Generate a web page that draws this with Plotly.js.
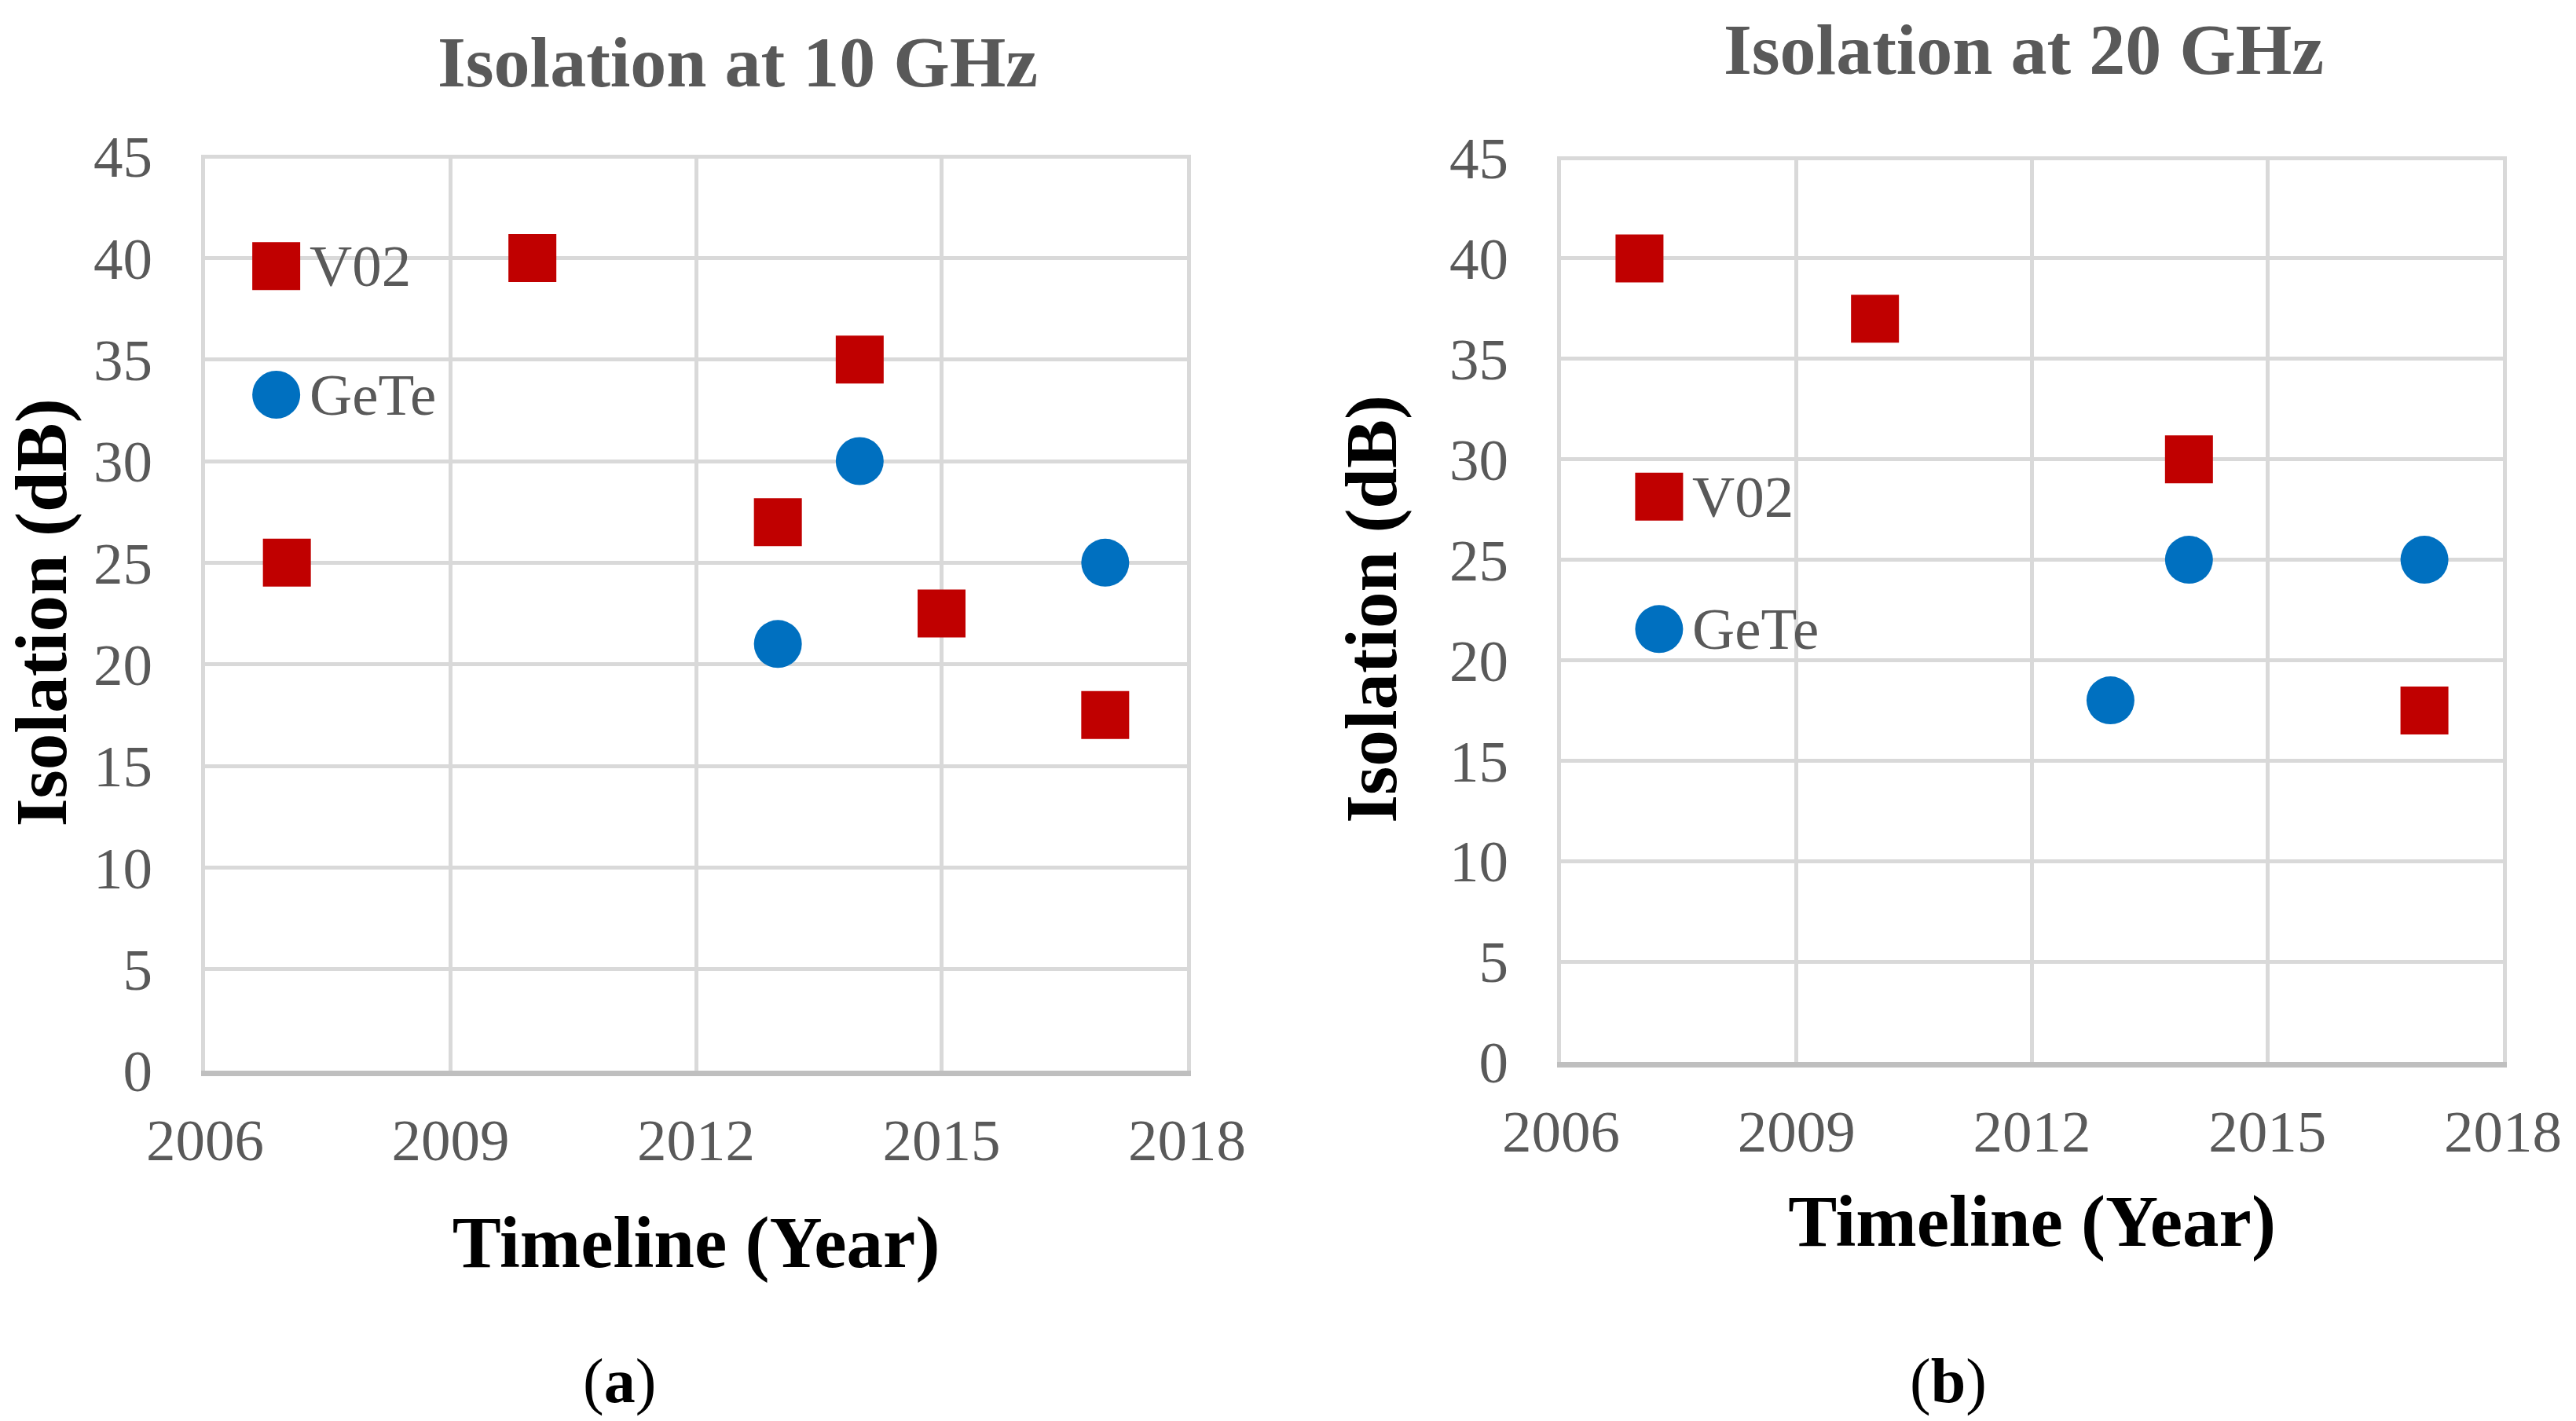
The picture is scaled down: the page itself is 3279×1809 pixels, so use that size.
<!DOCTYPE html>
<html><head><meta charset="utf-8">
<script src="https://cdn.plot.ly/plotly-3.0.1.min.js"></script>
<style>html,body{margin:0;padding:0;background:#fff}</style>
</head><body><div id="chart" style="width:3279px;height:1809px"></div>
<script>
// ---- data ----
const seriesNames = ['V02', 'GeTe'];
const chartTitles = ['Isolation at 10 GHz', 'Isolation at 20 GHz'];
const panelLabels = ['(<b>a</b>)', '(<b>b</b>)'];
const xTitle = 'Timeline (Year)';
const yTitle = 'Isolation (dB)';
const xTicks = [2006, 2009, 2012, 2015, 2018];
const yTicks = [0, 5, 10, 15, 20, 25, 30, 35, 40, 45];

const years10V02 = [2007, 2010, 2013, 2014, 2015, 2017];
const iso10V02   = [25, 40, 27, 35, 22.5, 17.5];
const years10GeTe = [2013, 2014, 2017];
const iso10GeTe   = [21, 30, 25];

const years20V02 = [2007, 2010, 2014, 2017];
const iso20V02   = [40, 37, 30, 17.5];
const years20GeTe = [2013, 2014, 2017];
const iso20GeTe   = [18, 25, 25];

// ---- styles ----
const FONT = 'Liberation Serif, Times New Roman, serif';
const RED = '#C00000', BLUE = '#0070C0', GRAY = '#595959';
const GRID = '#D9D9D9';
const MS = 61;

function sq(x, y, xa, ya, name) {
  return {type: 'scatter', mode: 'markers', x: x, y: y, xaxis: xa, yaxis: ya, name: name,
    marker: {symbol: 'square', size: MS, color: RED}, showlegend: false, hoverinfo: 'x+y'};
}
function ci(x, y, xa, ya, name) {
  return {type: 'scatter', mode: 'markers', x: x, y: y, xaxis: xa, yaxis: ya, name: name,
    marker: {symbol: 'circle', size: MS, color: BLUE}, showlegend: false, hoverinfo: 'x+y'};
}

const data = [
  sq(years10V02, iso10V02, 'x', 'y', seriesNames[0]),
  ci(years10GeTe, iso10GeTe, 'x', 'y', seriesNames[1]),
  sq(years20V02, iso20V02, 'x2', 'y2', seriesNames[0]),
  ci(years20GeTe, iso20GeTe, 'x2', 'y2', seriesNames[1])
];

function xAx(domain, anchor, standoff) {
  return {domain: domain, anchor: anchor, range: [2006, 2018], tickvals: xTicks, ticktext: xTicks.map(String),
    showgrid: true, gridcolor: GRID, gridwidth: 5, zeroline: false,
    showline: true, linecolor: '#BFBFBF', linewidth: 7, ticks: '',
    tickfont: {family: FONT, size: 75, color: GRAY}, ticklabelstandoff: 17,
    title: {text: '<b>' + xTitle + '</b>', font: {family: FONT, size: 93, color: '#000'}, standoff: standoff}};
}
function yAx(domain, anchor, standoff) {
  return {domain: domain, anchor: anchor, range: [0, 45.08], tickvals: yTicks,
    showgrid: true, gridcolor: GRID, gridwidth: 5, zeroline: false,
    showline: true, mirror: true, linecolor: GRID, linewidth: 5, ticks: '',
    tickfont: {family: FONT, size: 75, color: GRAY}, ticklabelstandoff: 47,
    title: {text: '<b>' + yTitle + '</b>', font: {family: FONT, size: 93, color: '#000'}, standoff: standoff}};
}

// legend keys (layout elements)
const legendPos = [
  {xa: 'x', ya: 'y', x: 2006.87, y: [39.6, 33.27]},
  {xa: 'x2', ya: 'y2', x: 2007.25, y: [28.14, 21.55]}
];
const shapes = [], annotations = [];
legendPos.forEach(lp => {
  [0, 1].forEach(i => {
    shapes.push({type: i === 0 ? 'rect' : 'circle', xref: lp.xa, yref: lp.ya,
      xsizemode: 'pixel', xanchor: lp.x, x0: -MS / 2, x1: MS / 2,
      ysizemode: 'pixel', yanchor: lp.y[i], y0: -MS / 2, y1: MS / 2,
      fillcolor: i === 0 ? RED : BLUE, line: {width: 0}});
    annotations.push({xref: lp.xa, yref: lp.ya, x: lp.x, y: lp.y[i], xanchor: 'left', yanchor: 'middle',
      xshift: 40, text: seriesNames[i], showarrow: false, font: {family: FONT, size: 75, color: GRAY}});
  });
});
annotations.push({xref: 'paper', yref: 'paper', x: 939 / 3279, y: 1 - 79 / 1809, xanchor: 'center', yanchor: 'middle',
  text: '<b>' + chartTitles[0] + '</b>', showarrow: false, font: {family: FONT, size: 92, color: GRAY}});
annotations.push({xref: 'paper', yref: 'paper', x: 2576 / 3279, y: 1 - 63 / 1809, xanchor: 'center', yanchor: 'middle',
  text: '<b>' + chartTitles[1] + '</b>', showarrow: false, font: {family: FONT, size: 92, color: GRAY}});
annotations.push({xref: 'paper', yref: 'paper', x: 788 / 3279, y: 1 - 1758 / 1809, xanchor: 'center', yanchor: 'middle',
  text: panelLabels[0], showarrow: false, font: {family: FONT, size: 80, color: '#000'}});
annotations.push({xref: 'paper', yref: 'paper', x: 2480 / 3279, y: 1 - 1758 / 1809, xanchor: 'center', yanchor: 'middle',
  text: panelLabels[1], showarrow: false, font: {family: FONT, size: 80, color: '#000'}});

const layout = {
  width: 3279, height: 1809, margin: {l: 0, r: 0, t: 0, b: 0},
  paper_bgcolor: '#fff', plot_bgcolor: '#fff', showlegend: false,
  font: {family: FONT},
  xaxis: xAx([261 / 3279, 1511 / 3279], 'y', 58),
  yaxis: yAx([1 - 1363 / 1809, 1 - 197 / 1809], 'x', 5),
  xaxis2: xAx([1987 / 3279, 3186 / 3279], 'y2', 42),
  yaxis2: yAx([1 - 1352 / 1809, 1 - 199 / 1809], 'x2', 38),
  shapes: shapes, annotations: annotations
};

Plotly.newPlot('chart', data, layout, {displayModeBar: false, staticPlot: true});
</script>
</body></html>
